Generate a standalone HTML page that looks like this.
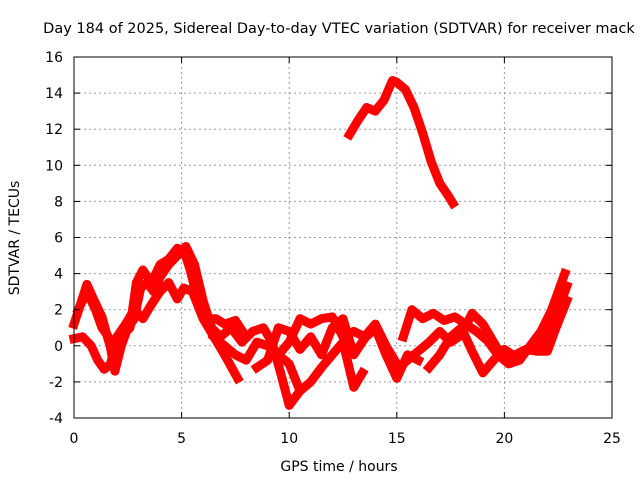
<!DOCTYPE html>
<html><head><meta charset="utf-8"><style>
body{margin:0;background:#fff;}
svg text{font-family:"DejaVu Sans","Liberation Sans",sans-serif;font-size:14px;fill:#000;}
</style></head><body>
<svg id="chart" width="640" height="480" xmlns="http://www.w3.org/2000/svg">
<rect width="640" height="480" fill="#fff"/>
<g id="grid"></g>
<g id="marks"></g>
<rect x="74" y="57" width="538" height="361" fill="none" stroke="#000"/>
<g id="ticks"></g>
<text x="339" y="33" text-anchor="middle" style="font-size:14.5px">Day 184 of 2025, Sidereal Day-to-day VTEC variation (SDTVAR) for receiver mack</text>
<text x="339" y="471" text-anchor="middle">GPS time / hours</text>
<text transform="translate(19,238) rotate(-90)" text-anchor="middle">SDTVAR / TECUs</text>
</svg>
<script>
const xTicks=[0,5,10,15,20,25];
const yTicks=[-4,-2,0,2,4,6,8,10,12,14,16];
const tA_h=[0,0.3,0.6,0.9,1.3,1.6,1.9,2.2,2.6,2.9,3.2,3.6,4.0,4.4,4.8,5.1,5.4,5.8,6.2,6.6,7.0,7.5,8.0];
const tA_v=[1.2,2.3,3.4,2.6,1.6,0.3,-0.8,0.5,1.0,3.5,4.2,3.5,4.5,4.8,5.4,5.3,4.2,2.3,1.5,1.5,1.2,1.4,0.5];
const tB_h=[0,0.4,0.8,1.1,1.4,1.7,2.0,2.4,2.8,3.2,3.6,4.0,4.4,4.8,5.1,5.5,6.0,6.5,7.0,7.6];
const tB_v=[0.4,0.5,0,-0.8,-1.3,-1.0,0.5,1.2,2.0,1.5,2.3,3.0,3.5,2.6,3.2,3.0,1.5,0.5,-0.5,-1.8];
const tC_h=[0.2,0.6,1.0,1.3,1.6,1.9,2.2,2.5,2.8,3.1,3.4,3.7,4.0,4.4,4.8,5.2,5.6,6.0,6.4,6.8,7.3,7.8,8.3,8.8,9.2,9.6,10.0,10.5];
const tC_v=[2.0,3.0,2.0,1.0,0.5,-1.4,0,1,1.5,3.2,3.5,3.0,3.8,4.5,5.0,5.5,4.5,2.5,1.0,0.5,1.0,0.2,0.8,1.0,0.2,-1.5,-3.3,-2.5];
const tD_h=[6.5,7.0,7.5,8.0,8.5,9.0,9.5,10.0,10.5,11.0,11.5,12.0,12.5,13.0,13.5,14.0,14.5,15.0];
const tD_v=[0.5,0,-0.5,-0.8,0.2,0,-0.5,0.2,1.5,1.2,1.5,1.6,0.5,0.8,0.5,1.2,0.0,-1.0];
const tE_h=[8.5,9.0,9.5,10.0,10.5,11.0,11.5,12.0,12.5,13.0,13.5,14.0,14.5,15.0,15.5,16.0];
const tE_v=[-1.2,-0.8,1.0,0.8,-0.2,0.5,-0.5,1.0,1.5,-0.5,0.4,1.0,-0.5,-1.8,-0.5,-0.8];
const tF_h=[9.5,10.0,10.5,11.0,11.5,12.0,12.5,13.0,13.4];
const tF_v=[-0.5,-1.0,-2.5,-2.0,-1.2,-0.5,0.2,-2.3,-1.5];
const tG_h=[15.3,15.7,16.2,16.7,17.2,17.7,18.2,18.7,19.2,19.7,20.2,20.7,21.2,21.7,22.2,22.8];
const tG_v=[0.5,2.0,1.5,1.8,1.4,1.6,1.2,0.8,0.3,-0.5,-1.0,-0.8,0.0,0.8,2.0,4.0];
const tH_h=[15.5,16.0,16.5,17.0,17.5,18.0,18.5,19.0,19.5,20.0,20.5,21.0,21.5,22.0,22.5,22.9];
const tH_v=[-0.8,-0.3,0.2,0.8,0.2,0.6,1.8,1.2,0.2,-0.8,-0.5,-0.2,-0.2,0.5,2.0,3.3];
const tI_h=[16.5,17.0,17.5,18.0,18.5,19.0,19.5,20.0,20.5,21.0,21.5,22.0,22.4,22.9];
const tI_v=[-1.2,-0.5,0.5,1.0,-0.3,-1.5,-0.8,-0.2,-0.6,-0.2,-0.3,-0.3,1.0,2.5];
const tJ_h=[12.8,13.2,13.6,14.0,14.4,14.8,15.0,15.4,15.8,16.2,16.6,17.0,17.4,17.6];
const tJ_v=[11.7,12.5,13.2,13.0,13.6,14.7,14.6,14.2,13.2,11.8,10.2,9.0,8.3,7.9];
const tracks=[[tA_h,tA_v],[tB_h,tB_v],[tC_h,tC_v],[tD_h,tD_v],[tE_h,tE_v],[tF_h,tF_v],[tG_h,tG_v],[tH_h,tH_v],[tI_h,tI_v],[tJ_h,tJ_v]];
const NS="http://www.w3.org/2000/svg";
const X=h=>74+h*538/25, Y=v=>418-(v+4)*361/20;
const grid=document.getElementById('grid'),ticks=document.getElementById('ticks'),marks=document.getElementById('marks');
function mk(tag,attrs,parent){const e=document.createElementNS(NS,tag);for(const k in attrs)e.setAttribute(k,attrs[k]);parent.appendChild(e);return e;}
xTicks.forEach(t=>{const x=X(t);
 if(t>0&&t<25){const l=mk('line',{x1:x,x2:x,y1:57,y2:418,stroke:'#999','stroke-dasharray':'2,3'},grid);
 
 }
 mk('line',{x1:x,x2:x,y1:418,y2:412,stroke:'#000'},ticks);mk('line',{x1:x,x2:x,y1:57,y2:63,stroke:'#000'},ticks);
 const tx=mk('text',{x:x,y:443,'text-anchor':'middle'},ticks);tx.textContent=t;
 
 });
yTicks.forEach(t=>{const y=Y(t);
 if(t>-4&&t<16){const l=mk('line',{x1:74,x2:612,y1:y,y2:y,stroke:'#999','stroke-dasharray':'2,3'},grid);
 
 }
 mk('line',{x1:74,x2:80,y1:y,y2:y,stroke:'#000'},ticks);mk('line',{x1:612,x2:606,y1:y,y2:y,stroke:'#000'},ticks);
 const tx=mk('text',{x:63,y:y+5,'text-anchor':'end'},ticks);tx.textContent=t;
 
 });
tracks.forEach(([hs,vs])=>{
 const pts=hs.map((h,i)=>X(h).toFixed(1)+','+Y(vs[i]).toFixed(1)).join(' ');
 const p=mk('polyline',{points:pts,fill:'none',stroke:'#ff0000','stroke-width':9,'stroke-linejoin':'round','stroke-linecap':'square'},marks);
 
 });
</script>
</body></html>
